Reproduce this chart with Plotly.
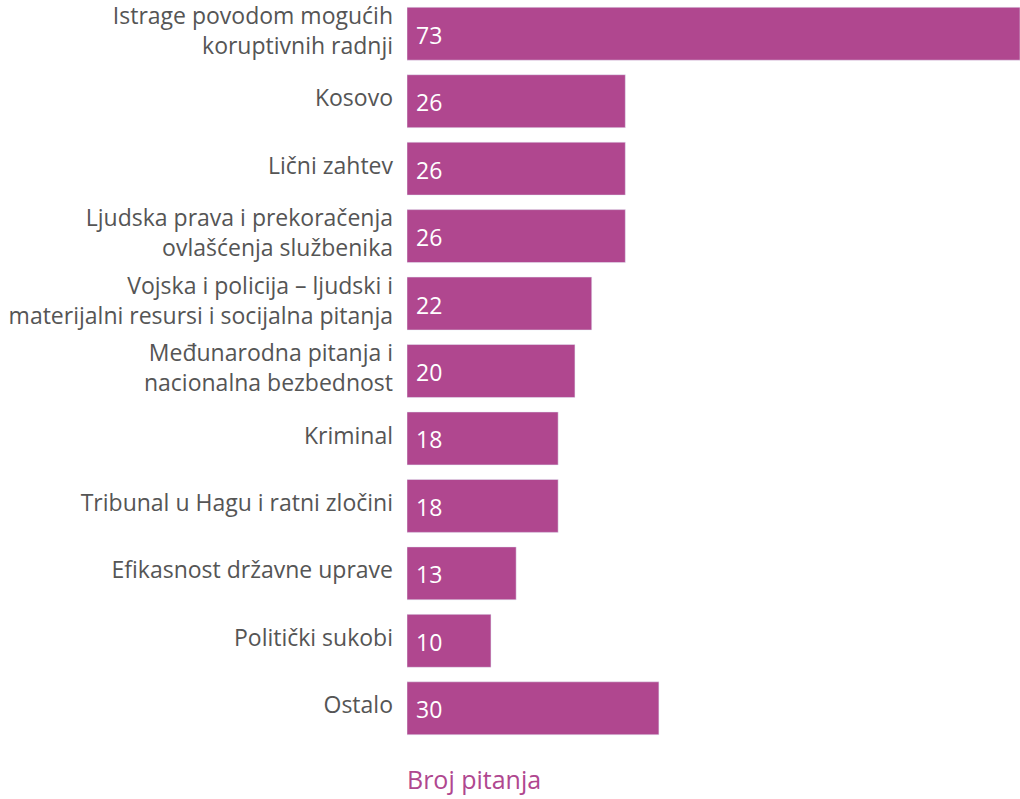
import plotly.graph_objects as go

categories = [
    "Istrage povodom mogućih<br>koruptivnih radnji",
    "Kosovo",
    "Lični zahtev",
    "Ljudska prava i prekoračenja<br>ovlašćenja službenika",
    "Vojska i policija – ljudski i<br>materijalni resursi i socijalna pitanja",
    "Međunarodna pitanja i<br>nacionalna bezbednost",
    "Kriminal",
    "Tribunal u Hagu i ratni zločini",
    "Efikasnost državne uprave",
    "Politički sukobi",
    "Ostalo",
]
values = [73, 26, 26, 26, 22, 20, 18, 18, 13, 10, 30]

bar_color = "#b0478f"
font_name = "Open Sans"

fig = go.Figure(go.Bar(
    x=values,
    y=categories,
    orientation="h",
    marker_color=bar_color,
    width=0.785,
    hoverinfo="skip",
))

# value labels inside the bars, at the left
for cat, val in zip(categories, values):
    fig.add_annotation(
        x=0, y=cat, text=str(val), showarrow=False,
        xanchor="left", xshift=7, yshift=-1,
        font=dict(family=font_name, size=23, color="white"),
    )

fig.add_annotation(
    x=0, y=0, xref="paper", yref="paper", text="Broj pitanja",
    showarrow=False, xanchor="left", yanchor="top", yshift=-18, xshift=-2,
    font=dict(family=font_name, size=25, color=bar_color),
)

fig.update_layout(
    width=1020, height=799,
    margin=dict(l=407, r=0, t=0, b=57),
    plot_bgcolor="white", paper_bgcolor="white",
    showlegend=False,
    font=dict(family=font_name, size=23, color="#555555"),
    xaxis=dict(range=[0, 73], showgrid=False, zeroline=False,
               showticklabels=False, fixedrange=True, automargin=False),
    yaxis=dict(autorange="reversed", showgrid=False, zeroline=False,
               ticks="", ticklabelstandoff=13, ticklabelshift=3,
               automargin=False),
)

fig.write_html(
    "out.html",
    config={"displayModeBar": False},
    post_script="document.body.style.margin='0';document.body.style.overflow='hidden';",
)
